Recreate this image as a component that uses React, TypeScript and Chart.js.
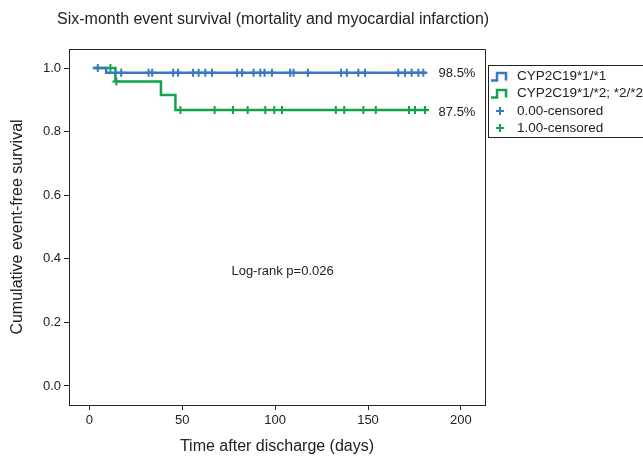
import React, { useEffect, useRef } from 'react';
import { Chart, registerables } from 'chart.js';

Chart.register(...registerables);

// ---- Data ----
const chartTitle = 'Six-month event survival (mortality and myocardial infarction)';
const xAxisTitle = 'Time after discharge (days)';
const yAxisTitle = 'Cumulative event-free survival';
const xTicks = [0, 50, 100, 150, 200];
const yTicks = [0.0, 0.2, 0.4, 0.6, 0.8, 1.0];

const seriesNames = ['CYP2C19*1/*1', 'CYP2C19*1/*2; *2/*2'];
const censorNames = ['0.00-censored', '1.00-censored'];

// Kaplan-Meier step curves (time in days, survival)
const blueTimes = [1.8, 9, 181.6];
const blueSurv = [1.0, 0.985, 0.985];
const blueCensorTimes = [4.5, 17.1, 31.9, 33.8, 45.1, 47.7, 55.8, 58.8, 62.4, 66.0, 79.5, 82.2, 88.4, 92.0, 94.3, 98.3, 108.1, 109.9, 117.6, 135.5, 138.6, 144.8, 148.4, 166.3, 169.9, 173.5, 177.1, 179.8];

const greenTimes = [2.7, 14.0, 38.5, 46.3, 182.3];
const greenSurv = [1.0, 0.958, 0.915, 0.868, 0.868];
const greenCensorTimes = [11.3, 14.5, 49.0, 67.4, 77.3, 85.2, 94.7, 99.5, 103.7, 132.7, 137.2, 147.5, 154.2, 172.1, 175.3, 180.7];

const endLabels = ['98.5%', '87.5%'];
const logRankText = 'Log-rank p=0.026';

const BLUE = '#3878c0';
const GREEN = '#10a44c';
const FONT = '"Liberation Sans", Arial, Helvetica, sans-serif';

function survAt(times: number[], surv: number[], t: number): number {
  let s = surv[0];
  for (let i = 0; i < times.length; i++) {
    if (times[i] <= t) s = surv[i];
  }
  return s;
}

const annotPlugin = {
  id: 'annot',
  afterDraw(chart: any) {
    const { ctx, chartArea, scales } = chart;
    const xs = scales.x;
    const ys = scales.y;
    ctx.save();
    // frame (top & right)
    ctx.strokeStyle = '#222';
    ctx.lineWidth = 1;
    ctx.beginPath();
    ctx.moveTo(chartArea.left, chartArea.top + 0.5);
    ctx.lineTo(chartArea.right + 0.5, chartArea.top + 0.5);
    ctx.lineTo(chartArea.right + 0.5, chartArea.bottom);
    ctx.stroke();

    // Title
    ctx.fillStyle = '#222';
    ctx.font = `16px ${FONT}`;
    ctx.textAlign = 'left';
    ctx.textBaseline = 'middle';
    ctx.fillText(chartTitle, 57, 20);

    // End labels
    ctx.font = `13px ${FONT}`;
    ctx.textAlign = 'left';
    ctx.fillText(endLabels[0], xs.getPixelForValue(188), ys.getPixelForValue(blueSurv[blueSurv.length - 1]) + 1);
    ctx.fillText(endLabels[1], xs.getPixelForValue(188), ys.getPixelForValue(greenSurv[greenSurv.length - 1]) + 2);

    // Log-rank text
    ctx.textAlign = 'center';
    ctx.fillText(logRankText, xs.getPixelForValue(104), ys.getPixelForValue(0.36));

    // Legend
    const lx = 488.5;
    const ly = 65.5;
    ctx.strokeStyle = '#222';
    ctx.lineWidth = 1;
    ctx.strokeRect(lx, ly, 170, 72);
    const rows = [76, 93, 111, 128];
    const colors = [BLUE, GREEN];
    for (let i = 0; i < 2; i++) {
      const y = rows[i];
      ctx.strokeStyle = colors[i];
      ctx.lineWidth = 2.5;
      ctx.beginPath();
      ctx.moveTo(491, y + 4.5);
      ctx.lineTo(497, y + 4.5);
      ctx.lineTo(497, y - 3);
      ctx.lineTo(506, y - 3);
      ctx.lineTo(506, y + 4.5);
      ctx.stroke();
    }
    for (let i = 0; i < 2; i++) {
      const y = rows[i + 2];
      ctx.strokeStyle = colors[i];
      ctx.lineWidth = 2;
      ctx.beginPath();
      ctx.moveTo(500, y - 4);
      ctx.lineTo(500, y + 4);
      ctx.moveTo(496, y);
      ctx.lineTo(504, y);
      ctx.stroke();
    }
    ctx.fillStyle = '#222';
    ctx.font = `13.5px ${FONT}`;
    ctx.textAlign = 'left';
    ctx.textBaseline = 'middle';
    ctx.fillText(seriesNames[0], 517, rows[0]);
    ctx.fillText(seriesNames[1], 517, rows[1]);
    ctx.fillText(censorNames[0], 517, rows[2]);
    ctx.fillText(censorNames[1], 517, rows[3]);
    ctx.restore();
  },
};

export default function App() {
  const ref = useRef<HTMLCanvasElement | null>(null);
  useEffect(() => {
    if (!ref.current) return;
    const blueLine = blueTimes.map((t, i) => ({ x: t, y: blueSurv[i] }));
    const greenLine = greenTimes.map((t, i) => ({ x: t, y: greenSurv[i] }));
    const blueCens = blueCensorTimes.map((t) => ({ x: t, y: survAt(blueTimes, blueSurv, t) }));
    const greenCens = greenCensorTimes.map((t) => ({ x: t, y: survAt(greenTimes, greenSurv, t) }));

    const chart = new Chart(ref.current, {
      type: 'line',
      data: {
        datasets: [
          { label: seriesNames[0], data: blueLine, borderColor: BLUE, borderWidth: 2.5, stepped: 'before', pointRadius: 0, fill: false },
          { label: seriesNames[1], data: greenLine, borderColor: GREEN, borderWidth: 2.5, stepped: 'before', pointRadius: 0, fill: false },
          { label: censorNames[0], data: blueCens, showLine: false, pointStyle: 'cross', pointRadius: 4, pointBorderWidth: 2, pointBorderColor: BLUE, pointBackgroundColor: BLUE, borderColor: BLUE },
          { label: censorNames[1], data: greenCens, showLine: false, pointStyle: 'cross', pointRadius: 4, pointBorderWidth: 2, pointBorderColor: GREEN, pointBackgroundColor: GREEN, borderColor: GREEN },
        ],
      },
      options: {
        animation: false,
        responsive: false,
        maintainAspectRatio: false,
        layout: { padding: { top: 49, right: 158, left: 0, bottom: 0 } },
        plugins: { legend: { display: false }, tooltip: { enabled: false }, title: { display: false } },
        scales: {
          x: {
            type: 'linear',
            min: -11,
            max: 213,
            afterBuildTicks: (s: any) => { s.ticks = xTicks.map((v) => ({ value: v })); },
            afterFit: (s: any) => { s.height = 52; },
            grid: { display: true, drawOnChartArea: false, drawTicks: true, tickLength: 5, color: '#222', tickWidth: 1 },
            border: { display: true, color: '#222', width: 1 },
            ticks: { color: '#222', font: { family: FONT, size: 13 }, padding: 3, maxRotation: 0 },
            title: { display: true, text: xAxisTitle, color: '#222', font: { family: FONT, size: 16 }, padding: { bottom: 1, top: 0 } },
          },
          y: {
            type: 'linear',
            min: -0.06,
            max: 1.06,
            afterBuildTicks: (s: any) => { s.ticks = yTicks.map((v) => ({ value: v })); },
            afterFit: (s: any) => { s.width = 69; },
            grid: { display: true, drawOnChartArea: false, drawTicks: true, tickLength: 5, color: '#222', tickWidth: 1 },
            border: { display: true, color: '#222', width: 1 },
            ticks: { color: '#222', font: { family: FONT, size: 13 }, padding: 3, callback: (v: any) => Number(v).toFixed(1) },
            title: { display: true, text: yAxisTitle, color: '#222', font: { family: FONT, size: 16 }, padding: { top: 8, bottom: 0 } },
          },
        },
      },
      plugins: [annotPlugin],
    });
    return () => chart.destroy();
  }, []);
  return (
    <div style={{ position: 'fixed', left: 0, top: 0, width: 643, height: 457, background: '#fff' }}>
      <canvas ref={ref} width={643} height={457} style={{ width: 643, height: 457 }} />
    </div>
  );
}
